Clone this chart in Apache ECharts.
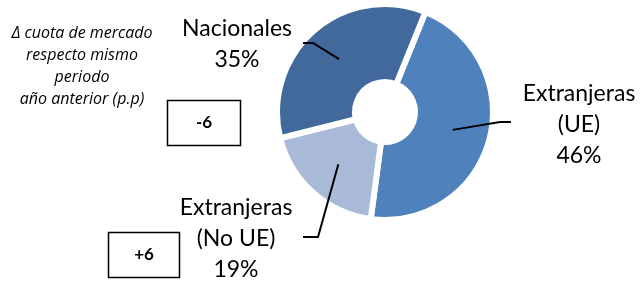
<!DOCTYPE html>
<html><head><meta charset="utf-8">
<script src="https://cdn.jsdelivr.net/npm/echarts@6/dist/echarts.min.js"></script>
<style>html,body{margin:0;padding:0;background:#fff}#c{width:642px;height:282px}</style>
</head><body><div id="c"></div>
<script>
const categories = ['Extranjeras\n(UE)', 'Extranjeras\n(No UE)', 'Nacionales'];
const shares = [46, 19, 35];
const colors = ['#4F81BD', '#A9B9D8', '#41699B'];
const changeLabels = ['-6', '+6'];
const noteLines = ['Δ cuota de mercado', 'respecto mismo', 'periodo', 'año anterior (p.p)'];

const cx = 385, cy = 112, rIn = 30, rOut = 108, startDeg = 22;
const labelPos = [[579, 125], [236, 239], [237, 44]];
const elbows = [[[500, 122], [511, 122]], [[318, 237], [303, 237]], [[313, 43], [303, 43]]];

const total = shares.reduce((a, b) => a + b, 0);
function midAngle(i) {
  let acc = 0;
  for (let k = 0; k < i; k++) acc += shares[k];
  return (startDeg + (acc + shares[i] / 2) / total * 360) * Math.PI / 180;
}
function leaderPoints(i) {
  const a = midAngle(i);
  return [[cx + 70 * Math.sin(a), cy - 70 * Math.cos(a)], elbows[i][0], elbows[i][1]];
}

const chart = echarts.init(document.getElementById('c'), null, {renderer: 'canvas'});
chart.setOption({
  animation: false,
  backgroundColor: '#fff',
  series: [{
    type: 'pie',
    center: [cx, cy],
    radius: [rIn, rOut],
    startAngle: 90 - startDeg,
    clockwise: true,
    data: categories.map((c, i) => ({name: c, value: shares[i], itemStyle: {color: colors[i]}})),
    itemStyle: {borderColor: '#fff', borderWidth: 6},
    label: {
      show: true,
      formatter: p => p.name + '\n' + shares[p.dataIndex] + '%',
      fontFamily: 'Lato', fontSize: 23, color: '#000', lineHeight: 31, align: 'center',
      overflow: 'none'
    },
    labelLine: {show: false},
    labelLayout: function (p) {
      const i = p.dataIndex;
      return {x: labelPos[i][0], y: labelPos[i][1], align: 'center', verticalAlign: 'middle'};
    },
    emphasis: {disabled: true}
  }],
  graphic: [
    {type: 'text', z: 100, style: {text: noteLines.join('\n'), x: 82, y: 22, align: 'center',
      font: 'italic 16px "Open Sans"', lineHeight: 22, fill: '#000'}},
    {type: 'rect', z: 100, shape: {x: 167.5, y: 100.5, width: 73, height: 45}, style: {fill: '#fff', stroke: '#000', lineWidth: 1.5}},
    {type: 'text', z: 101, style: {text: changeLabels[0], x: 204, y: 123, align: 'center', verticalAlign: 'middle', font: 'bold 17px Lato', fill: '#000'}},
    {type: 'rect', z: 100, shape: {x: 108.5, y: 232.5, width: 71, height: 45}, style: {fill: '#fff', stroke: '#000', lineWidth: 1.5}},
    {type: 'text', z: 101, style: {text: changeLabels[1], x: 144, y: 255, align: 'center', verticalAlign: 'middle', font: 'bold 17px Lato', fill: '#000'}}
  ].concat(categories.map((c, i) => ({
    type: 'polyline', z: 100, shape: {points: leaderPoints(i)}, style: {stroke: '#000', lineWidth: 2, fill: null}
  })))
});
</script></body></html>
